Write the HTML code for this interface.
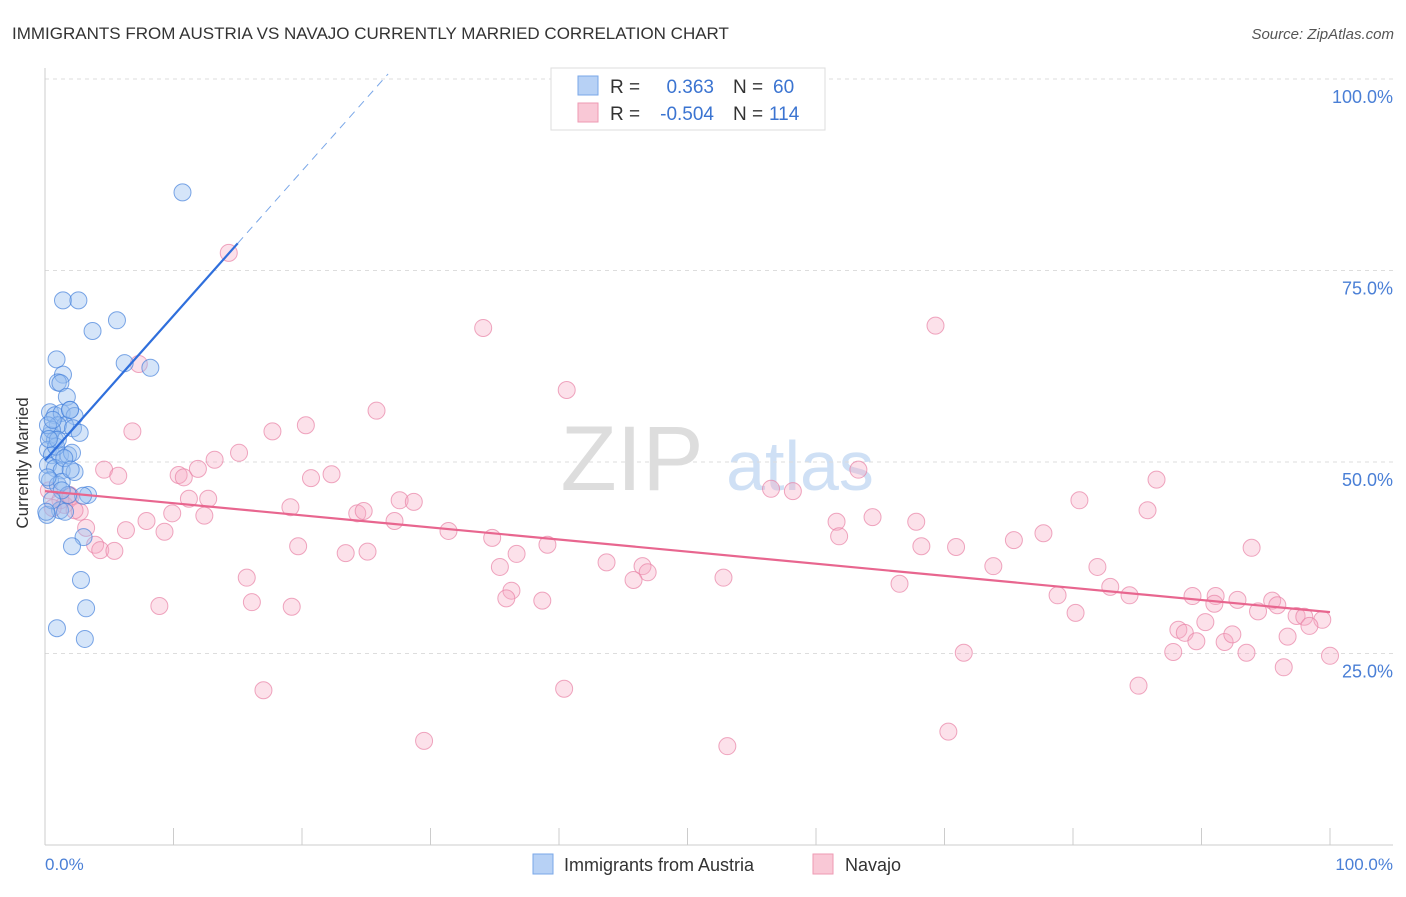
<!DOCTYPE html>
<html><head><meta charset="utf-8"><style>
body{margin:0;background:#fff;font-family:"Liberation Sans",sans-serif;}
svg text{font-family:"Liberation Sans",sans-serif;}
</style></head><body>
<svg id="chart" width="1406" height="892">
<text x="12" y="39" font-size="17" fill="#333">IMMIGRANTS FROM AUSTRIA VS NAVAJO CURRENTLY MARRIED CORRELATION CHART</text>
<text x="1394" y="39" font-size="15" fill="#555" font-style="italic" text-anchor="end">Source: ZipAtlas.com</text>
<g>
<text x="632" y="490" font-size="92" fill="#ddd" font-family="Liberation Serif" text-anchor="middle">ZIP</text>
<text x="800" y="490" font-size="70" fill="#cfe0f5" text-anchor="middle">atlas</text>
</g>
<g id="grid"></g>
<line x1="45" y1="68" x2="45" y2="845" stroke="#ccc"/>
<line x1="45" y1="845" x2="1393" y2="845" stroke="#ccc"/>
<g id="xticks"></g>
<text x="20" y="455" font-size="17" fill="#333" text-anchor="middle" transform="rotate(-90 28 455)">Currently Married</text>
<text x="45" y="870" font-size="17" fill="#4a7fd6">0.0%</text>
<text x="1393" y="870" font-size="17" fill="#4a7fd6" text-anchor="end">100.0%</text>
<g id="pts"></g>
<g id="lines"></g>
<g>
<rect x="551" y="68" width="274" height="62" fill="#fff" stroke="#ddd"/>
<rect x="578" y="76" width="20" height="19" fill="#b7d1f5" stroke="#7aa7e8"/>
<rect x="578" y="103" width="20" height="19" fill="#f9c8d6" stroke="#ee9ab3"/>
<text x="610" y="93" font-size="19" fill="#333">R =</text>
<text x="714" y="93" font-size="19" fill="#3b74d1" text-anchor="end">0.363</text>
<text x="733" y="93" font-size="19" fill="#333">N =</text>
<text x="773" y="93" font-size="19" fill="#3b74d1">60</text>
<text x="610" y="120" font-size="19" fill="#333">R =</text>
<text x="714" y="120" font-size="19" fill="#3b74d1" text-anchor="end">-0.504</text>
<text x="733" y="120" font-size="19" fill="#333">N =</text>
<text x="769" y="120" font-size="19" fill="#3b74d1">114</text>
</g>
<g>
<rect x="533" y="854" width="20" height="20" fill="#b7d1f5" stroke="#7aa7e8"/>
<text x="564" y="871" font-size="18" fill="#333">Immigrants from Austria</text>
<rect x="813" y="854" width="20" height="20" fill="#f9c8d6" stroke="#ee9ab3"/>
<text x="845" y="871" font-size="18" fill="#333">Navajo</text>
</g>
</svg>
<script>
const yTicks=[25,50,75,100];
const yTickLabels=["25.0%","50.0%","75.0%","100.0%"];
const xTickVals=[0,10,20,30,40,50,60,70,80,90,100];
const blueX=[10.7,1.4,2.6,5.6,3.7,6.2,8.2,0.9,1.4,1.0,1.2,1.7,0.39,0.78,1.3,1.95,2.3,1.56,1.0,2.18,2.7,0.39,0.78,0.23,0.54,1.17,1.8,2.1,0.23,0.78,1.3,2.3,0.39,1.0,1.3,3.35,2.96,1.8,1.17,1.56,0.16,3.0,2.1,2.8,3.2,0.93,3.1,1.95,0.54,0.23,0.86,1.3,0.54,1.0,0.3,0.6,1.5,2.0,0.2,0.1];
const blueY=[85.2,71.1,71.1,68.5,67.1,62.9,62.3,63.4,61.4,60.4,60.3,58.5,56.5,56.1,56.4,56.8,56.0,54.8,54.8,54.4,53.8,53.5,52.9,51.6,50.9,50.9,50.9,51.2,49.6,49.2,48.9,48.7,47.6,47.0,47.4,45.7,45.6,45.7,43.7,43.5,43.1,40.2,39.0,34.6,30.9,28.3,26.9,56.8,54.2,54.8,52.0,46.3,45.0,52.9,53.0,55.5,50.5,49.0,48.0,43.5];
const pinkX=[14.3,34.1,69.3,7.3,40.6,25.8,6.8,17.7,20.3,15.1,13.2,4.6,5.7,10.4,10.8,11.9,20.7,22.3,63.3,86.5,11.2,12.7,19.1,27.6,28.7,56.5,58.2,80.5,85.8,1.9,1.5,2.7,7.9,9.9,12.4,24.3,24.8,27.2,61.6,64.4,67.8,3.2,6.3,9.3,31.4,34.8,61.8,77.7,75.4,3.9,4.3,5.4,19.7,23.4,25.1,36.7,39.1,68.2,70.9,93.9,35.4,43.7,46.5,46.9,73.8,81.9,15.7,45.8,52.8,66.5,82.9,36.3,35.9,38.7,78.8,84.4,89.3,91.1,92.8,95.5,91.0,8.9,16.1,19.2,80.2,94.4,95.9,97.4,98.0,99.4,98.4,96.7,88.2,88.7,89.6,91.8,92.4,90.3,71.5,87.8,93.5,100,96.4,17.0,40.4,85.1,29.5,70.3,53.1,0.3,1.2,2.3,0.6,2.0];
const pinkY=[77.3,67.5,67.8,62.8,59.4,56.7,54.0,54.0,54.8,51.2,50.3,49.0,48.2,48.3,48.0,49.1,47.9,48.4,49.0,47.7,45.2,45.2,44.1,45.0,44.8,46.5,46.2,45.0,43.7,45.7,44.4,43.5,42.3,43.3,43.0,43.3,43.6,42.3,42.2,42.8,42.2,41.4,41.1,40.9,41.0,40.1,40.3,40.7,39.8,39.2,38.5,38.4,39.0,38.1,38.3,38.0,39.2,39.0,38.9,38.8,36.3,36.9,36.4,35.6,36.4,36.3,34.9,34.6,34.9,34.1,33.7,33.2,32.2,31.9,32.6,32.6,32.5,32.5,32.0,31.9,31.5,31.2,31.7,31.1,30.3,30.5,31.3,29.9,29.8,29.4,28.6,27.2,28.1,27.7,26.6,26.5,27.5,29.1,25.1,25.2,25.1,24.7,23.2,20.2,20.4,20.8,13.6,14.8,12.9,46.3,45.0,43.7,44.0,45.5];
const blueTrend=[50.2,1.89];   // intercept, slope
const pinkTrend=[46.2,-0.158];
const NS="http://www.w3.org/2000/svg";
const sx=v=>45+v*12.85, sy=v=>845-v*7.66;
function mk(tag,attrs,parent){const e=document.createElementNS(NS,tag);for(const k in attrs)e.setAttribute(k,attrs[k]);parent.appendChild(e);return e;}
const grid=document.getElementById('grid');
yTicks.forEach((t,i)=>{
 const l=mk('line',{x1:45,x2:1393,y1:sy(t),y2:sy(t),stroke:'#ddd','stroke-dasharray':'4,4'},grid);
 
 
 const tx=mk('text',{x:1393,y:sy(t)+24,'font-size':18,fill:'#4a7fd6','text-anchor':'end'},grid);
 tx.textContent=yTickLabels[i];
 
 
});
const xt=document.getElementById('xticks');
xTickVals.forEach(v=>{
 const l=mk('line',{x1:sx(v),x2:sx(v),y1:828,y2:845,stroke:'#ccc'},xt);
 
 
});
const pts=document.getElementById('pts');
pinkX.forEach((x,i)=>{
 const c=mk('circle',{cx:sx(x),cy:sy(pinkY[i]),r:8.5,fill:'rgba(246,170,195,0.35)',stroke:'rgba(232,130,165,0.7)','stroke-width':1},pts);
 
 
});
blueX.forEach((x,i)=>{
 const c=mk('circle',{cx:sx(x),cy:sy(blueY[i]),r:8.5,fill:'rgba(150,190,240,0.4)',stroke:'rgba(70,130,220,0.7)','stroke-width':1},pts);
 
 
});
const lines=document.getElementById('lines');
const bEnd=15, bDash=26.7;
let l1=mk('line',{x1:sx(0),y1:sy(blueTrend[0]),x2:sx(bEnd),y2:sy(blueTrend[0]+blueTrend[1]*bEnd),stroke:'#2f6fdc','stroke-width':2.2},lines);


let l2=mk('line',{x1:sx(bEnd),y1:sy(blueTrend[0]+blueTrend[1]*bEnd),x2:sx(bDash),y2:sy(blueTrend[0]+blueTrend[1]*bDash),stroke:'#7aa7e8','stroke-width':1,'stroke-dasharray':'8,6'},lines);


let l3=mk('line',{x1:sx(0),y1:sy(pinkTrend[0]),x2:sx(100),y2:sy(pinkTrend[0]+pinkTrend[1]*100),stroke:'#e8668f','stroke-width':2.2},lines);


</script>
</body></html>
